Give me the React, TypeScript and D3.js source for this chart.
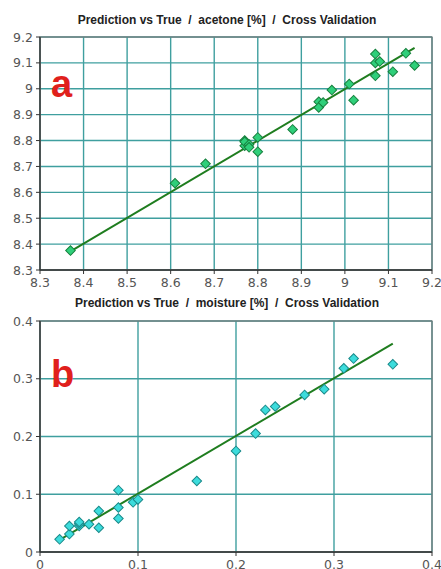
import React from "react";
import * as d3 from "d3";

// Panel a: acetone [%]
const aTrue = [8.37, 8.61, 8.68, 8.77, 8.77, 8.77, 8.78, 8.78, 8.8, 8.8, 8.88, 8.94, 8.94, 8.95, 8.97, 9.01, 9.02, 9.07, 9.07, 9.07, 9.08, 9.11, 9.14, 9.16];
const aPred = [8.375, 8.635, 8.71, 8.8, 8.78, 8.795, 8.785, 8.774, 8.812, 8.757, 8.843, 8.95, 8.928, 8.947, 8.995, 9.018, 8.956, 9.134, 9.1, 9.05, 9.105, 9.066, 9.137, 9.09];
const aLineX = [8.37, 9.16];
const aLineY = [8.372, 9.158];
const aTicks = [8.3, 8.4, 8.5, 8.6, 8.7, 8.8, 8.9, 9, 9.1, 9.2];
const aTickLabels = ["8.3", "8.4", "8.5", "8.6", "8.7", "8.8", "8.9", "9", "9.1", "9.2"];

// Panel b: moisture [%]
const bTrue = [0.02, 0.03, 0.03, 0.04, 0.04, 0.04, 0.05, 0.06, 0.06, 0.08, 0.08, 0.08, 0.095, 0.1, 0.16, 0.2, 0.22, 0.23, 0.24, 0.27, 0.29, 0.31, 0.32, 0.36];
const bPred = [0.022, 0.031, 0.045, 0.045, 0.049, 0.052, 0.048, 0.071, 0.042, 0.107, 0.077, 0.058, 0.086, 0.091, 0.123, 0.175, 0.205, 0.246, 0.252, 0.272, 0.282, 0.318, 0.335, 0.325];
const bLineX = [0.02, 0.36];
const bLineY = [0.021, 0.361];
const bTicks = [0, 0.1, 0.2, 0.3, 0.4];
const bTickLabels = ["0", "0.1", "0.2", "0.3", "0.4"];

const GRID = "#3f9f9f";
const LINE = "#1f7d1f";

type PanelProps = {
  title: string;
  letter: string;
  xs: number[];
  ys: number[];
  lx: number[];
  ly: number[];
  ticks: number[];
  labels: string[];
  domain: [number, number];
  top: number;
  bottom: number;
  titleY: number;
  letterX: number;
  letterY: number;
  fill: string;
  stroke: string;
};

function Panel(p: PanelProps) {
  const left = 40;
  const right = 432;
  const x = d3.scaleLinear().domain(p.domain).range([left, right]);
  const y = d3.scaleLinear().domain(p.domain).range([p.bottom, p.top]);
  const sym = d3.symbol(d3.symbolSquare, 46)() as string;
  const line = d3
    .line<number>()
    .x((_, i) => x(p.lx[i]))
    .y((d) => y(d));
  return (
    <g>
      <text
        x={227}
        y={p.titleY}
        textAnchor="middle"
        fontFamily="'Liberation Sans', Arial, sans-serif"
        fontWeight="bold"
        fontSize={12}
        fill="#222"
        style={{ whiteSpace: "pre" }}
      >
        {p.title}
      </text>
      <rect x={left} y={p.top} width={right - left} height={p.bottom - p.top} fill="#fff" />
      {p.ticks.map((t, i) => (
        <g key={"g" + i}>
          <line x1={x(t)} x2={x(t)} y1={p.top} y2={p.bottom} stroke={GRID} strokeWidth={1.4} />
          <line x1={left} x2={right} y1={y(t)} y2={y(t)} stroke={GRID} strokeWidth={1.4} />
        </g>
      ))}
      <rect x={left} y={p.top} width={right - left} height={p.bottom - p.top} fill="none" stroke="#777" strokeWidth={1.2} />
      <line x1={left} x2={left} y1={p.top} y2={p.bottom} stroke="#333" strokeWidth={1.3} />
      <line x1={left} x2={right} y1={p.bottom} y2={p.bottom} stroke="#333" strokeWidth={1.3} />
      {p.ticks.map((t, i) => (
        <g key={"t" + i}>
          <line x1={left - 4} x2={left} y1={y(t)} y2={y(t)} stroke="#333" />
          <line x1={x(t)} x2={x(t)} y1={p.bottom} y2={p.bottom + 4} stroke="#333" />
          <text
            x={33}
            y={y(t) + 4.5}
            textAnchor="end"
            fontFamily="'DejaVu Sans', Tahoma, sans-serif"
            fontSize={12.5}
            fill="#555"
          >
            {p.labels[i]}
          </text>
          <text
            x={x(t)}
            y={p.bottom + 17}
            textAnchor="middle"
            fontFamily="'DejaVu Sans', Tahoma, sans-serif"
            fontSize={12.5}
            fill="#555"
          >
            {p.labels[i]}
          </text>
        </g>
      ))}
      <path d={line(p.ly) || ""} fill="none" stroke={LINE} strokeWidth={2} />
      {p.xs.map((v, i) => (
        <path
          key={"p" + i}
          d={sym}
          transform={`translate(${x(v)},${y(p.ys[i])}) rotate(45)`}
          fill={p.fill}
          stroke={p.stroke}
          strokeWidth={1}
        />
      ))}
      <text
        x={p.letterX}
        y={p.letterY}
        fontFamily="'Liberation Sans', Arial, sans-serif"
        fontWeight="bold"
        fontSize={38}
        fill="#e0201c"
      >
        {p.letter}
      </text>
    </g>
  );
}

export default function App() {
  return (
    <svg
      width={441}
      height={569}
      style={{ position: "absolute", left: 0, top: 0, background: "#fff" }}
    >
      <rect width={441} height={569} fill="#fff" />
      <Panel
        title="Prediction vs True  /  acetone [%]  /  Cross Validation"
        letter="a"
        xs={aTrue}
        ys={aPred}
        lx={aLineX}
        ly={aLineY}
        ticks={aTicks}
        labels={aTickLabels}
        domain={[8.3, 9.2]}
        top={37}
        bottom={270}
        titleY={24}
        letterX={51}
        letterY={97}
        fill="#2fcf7a"
        stroke="#17803e"
      />
      <Panel
        title="Prediction vs True  /  moisture [%]  /  Cross Validation"
        letter="b"
        xs={bTrue}
        ys={bPred}
        lx={bLineX}
        ly={bLineY}
        ticks={bTicks}
        labels={bTickLabels}
        domain={[0, 0.4]}
        top={321}
        bottom={552}
        titleY={307}
        letterX={51}
        letterY={387}
        fill="#3cdcdc"
        stroke="#1a8a8a"
      />
    </svg>
  );
}
